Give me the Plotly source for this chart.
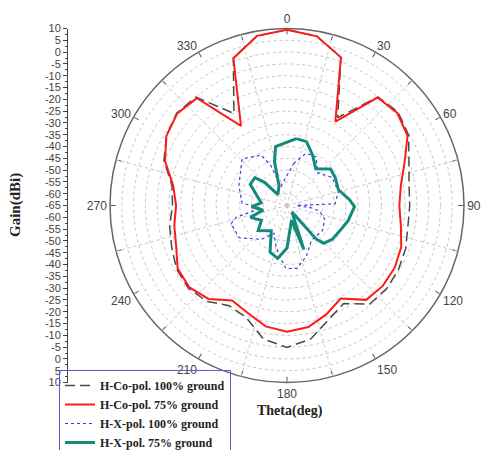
import plotly.graph_objects as go

# ---------------- data ----------------
theta_co = list(range(0, 360, 10))
gain_co_100 = [9.5, 7.8, 1.8, -22, -5, -3.5, -5.5, -10, -12.5, -13,
               -13, -11.5, -10.5, -10, -10.5, -17, -13.5, -7.5, -4.9, -7.5,
               -14.5, -16, -12, -10.5, -11, -13, -14.5, -16.5, -15.5, -9.5,
               -6, -4, -5, -20, 1.4, 8]
gain_co_75 = [9.5, 7.8, 1.8, -24, -5.3, -4, -6, -12, -16, -17.4,
              -16, -13.5, -12.3, -12, -12.8, -19.5, -16, -12.7, -11.5, -13,
              -16.5, -18.5, -13.3, -11, -11.5, -15, -16.5, -18, -16, -10,
              -6, -4.3, -5.6, -26, 1.4, 8]

theta_x100 = [9, 20, 31, 43, 58, 75, 88, 90, 95, 100, 110, 125, 145, 159, 171,
              181, 187, 195, 205, 217, 236, 252, 257, 264, 273, 292, 316, 333,
              338, 342]
gain_x_100 = [-47, -41.5, -41, -46, -42.5, -42.4, -44.6, -61, -55, -51, -48,
              -46.6, -47, -42, -38, -38.3, -42.5, -47, -52, -47, -40.6, -40,
              -43, -54, -46, -43, -37.6, -41, -47, -56.5]

theta_x75 = [8, 17, 27, 38, 50, 60, 73, 85, 91, 104, 115, 127, 136, 139, 143,
             159, 163, 180, 190, 200, 212, 229, 240, 252, 259, 268, 276, 300,
             311, 316, 320, 338, 344, 349]
gain_x_75 = [-36.4, -36.7, -41.1, -45.2, -40.9, -41.4, -42.2, -38.3, -36.4,
             -38.3, -40.1, -41.1, -42.7, -46.1, -61.5, -45.1, -58.5, -47,
             -42.2, -44, -52.4, -48.8, -52.5, -48.7, -54.7, -50, -54, -47,
             -47, -51.5, -59, -56, -45.8, -39.6]

names = ["H-Co-pol. 100% ground", "H-Co-pol. 75% ground",
         "H-X-pol. 100% ground", "H-X-pol. 75% ground"]

angle_ticks = list(range(0, 360, 15))
angle_text = [str(a) if a % 30 == 0 else "" for a in angle_ticks]
angle_grid = list(range(15, 360, 30))
r_grid = list(range(-60, 15, 5))
left_vals = list(range(-75, 80, 5))
left_text = [str(abs(v) - 65) for v in left_vals]


def closed(a):
    return list(a) + [a[0]]


# ---------------- figure ----------------
fig = go.Figure()

# empty trace to create the base polar (ticks/labels/circles)
fig.add_trace(go.Scatterpolar(r=[None], theta=[None], subplot="polar",
                              showlegend=False, hoverinfo="skip"))

fig.add_trace(go.Scatterpolar(r=closed(gain_co_100), theta=closed(theta_co),
                              mode="lines", name=names[0], subplot="polar2",
                              line=dict(color="#4a4a4a", width=1.5,
                                        dash="10px,5px")))
fig.add_trace(go.Scatterpolar(r=closed(gain_co_75), theta=closed(theta_co),
                              mode="lines", name=names[1], subplot="polar2",
                              line=dict(color="#ff1a1a", width=2)))
fig.add_trace(go.Scatterpolar(r=closed(gain_x_100), theta=closed(theta_x100),
                              mode="lines", name=names[2], subplot="polar2",
                              line=dict(color="#3c3cdc", width=1.2, dash="dot")))
fig.add_trace(go.Scatterpolar(r=closed(gain_x_75), theta=closed(theta_x75),
                              mode="lines", name=names[3], subplot="polar2",
                              line=dict(color="#138a7c", width=3)))

# left linear gain axis
fig.add_trace(go.Scatter(x=[None], y=[None], xaxis="x", yaxis="y",
                         showlegend=False, hoverinfo="skip"))

# the page body has an 8px margin: work in screen pixels and convert
OFF = 8
W, H = 492 - OFF, 450 - OFF


def px(x):
    return (x - OFF) / W


def py(y):
    return 1 - (y - OFF) / H


cx, cy, R = 287, 205.5, 177
xdom = [px(cx - R), px(cx + R)]
ydom = [py(cy + R), py(cy - R)]

tickfont = dict(family="Arial, Liberation Sans", size=12, color="#444")
ytickfont = dict(family="Arial, Liberation Sans", size=11, color="#444")

polar_common = dict(domain=dict(x=xdom, y=ydom))

fig.update_layout(
    width=W, height=H,
    margin=dict(l=0, r=0, t=0, b=0, autoexpand=False),
    paper_bgcolor="white",
    plot_bgcolor="white",
    polar=dict(
        **polar_common,
        bgcolor="white",
        angularaxis=dict(rotation=90, direction="clockwise",
                         tickmode="array", tickvals=angle_ticks,
                         ticktext=angle_text, ticks="inside", ticklen=5,
                         tickcolor="#555", showline=True, linecolor="#666",
                         linewidth=1.5, showgrid=False, tickfont=tickfont),
        radialaxis=dict(range=[-65, 10], tickmode="array", tickvals=r_grid,
                        showticklabels=False, ticks="", showline=False,
                        showgrid=True, gridcolor="#c4c4c4", griddash="dot",
                        gridwidth=1),
    ),
    polar2=dict(
        **polar_common,
        bgcolor="rgba(0,0,0,0)",
        angularaxis=dict(rotation=90, direction="clockwise",
                         tickmode="array", tickvals=angle_grid,
                         showticklabels=False, ticks="", showline=False,
                         showgrid=True, gridcolor="#c4c4c4", griddash="dot",
                         gridwidth=1),
        radialaxis=dict(range=[-65, 10], showticklabels=False, ticks="",
                        showline=False, showgrid=False),
    ),
    xaxis=dict(domain=[px(68), px(70)], visible=False, range=[0, 1]),
    yaxis=dict(domain=ydom, range=[-75, 75], tickmode="array",
               tickvals=left_vals, ticktext=left_text, ticks="outside",
               ticklen=4, tickcolor="#444", showline=True, linecolor="#444",
               linewidth=1, showgrid=False, zeroline=False,
               tickfont=ytickfont,
               minor=dict(tickmode="linear", tick0=0, dtick=2.5,
                          ticks="outside", ticklen=2, tickcolor="#444")),
    legend=dict(x=px(59), y=py(370), xanchor="left", yanchor="top",
                bgcolor="rgba(255,255,255,0)", bordercolor="#5a5ad2",
                borderwidth=1,
                font=dict(family="Liberation Serif", size=12, color="#222",
                          weight="bold"),
                tracegroupgap=0, itemwidth=30),
    annotations=[
        dict(text="Theta(deg)", x=px(290), y=py(411), xref="paper",
             yref="paper", xanchor="center", yanchor="middle",
             showarrow=False,
             font=dict(family="Liberation Serif", size=14, color="#222",
                       weight="bold")),
        dict(text="Gain(dBi)", x=px(15), y=py(205), xref="paper",
             yref="paper", xanchor="center", yanchor="middle",
             textangle=-90, showarrow=False,
             font=dict(family="Liberation Serif", size=15, color="#222",
                       weight="bold")),
    ],
)

fig.write_html("out.html")
